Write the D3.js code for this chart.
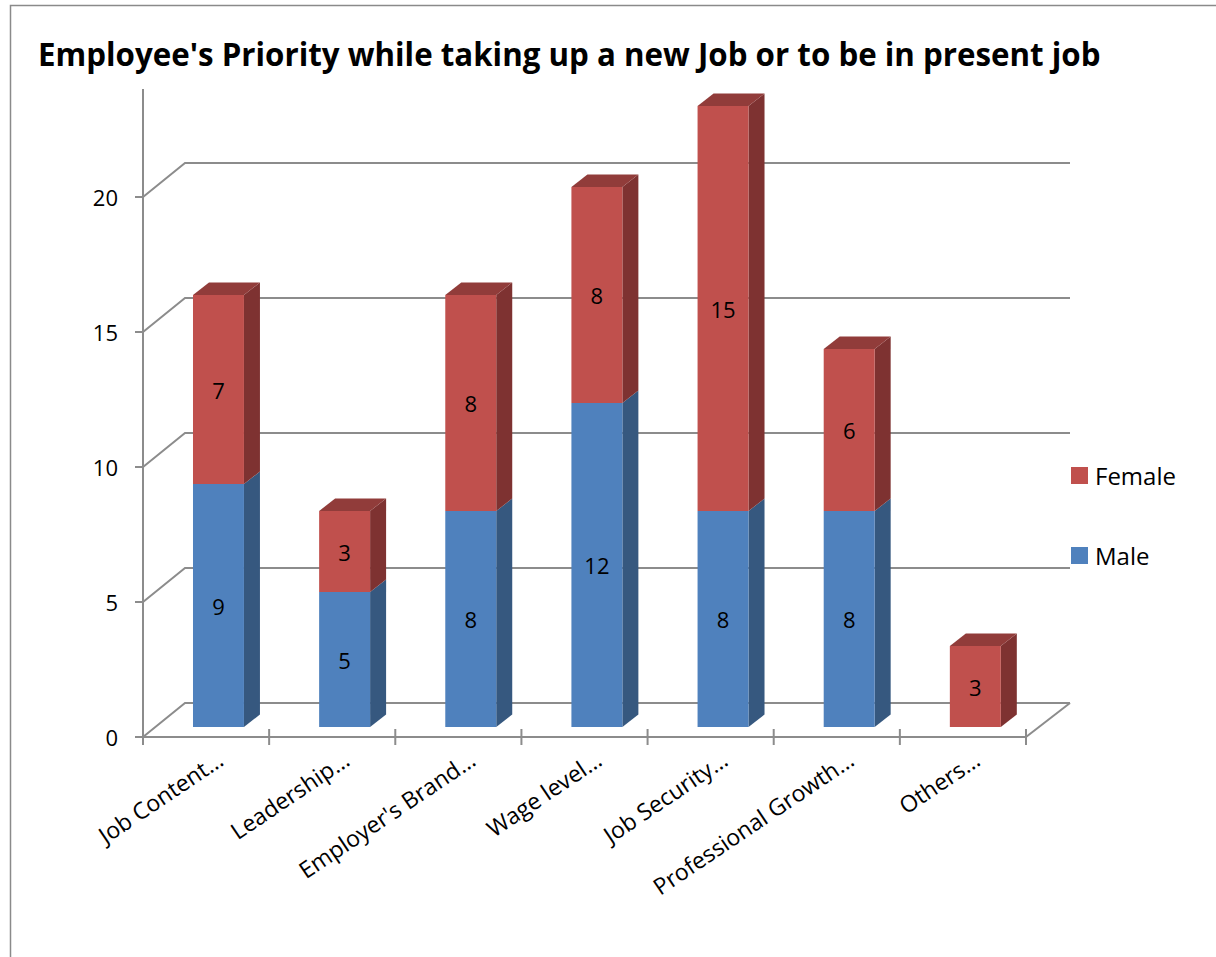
<!DOCTYPE html>
<html>
<head>
<meta charset="utf-8">
<script src="https://cdn.jsdelivr.net/npm/d3@7"></script>
<style>
  html, body { margin: 0; padding: 0; background: #fff; }
  svg { display: block; font-family: "Open Sans", "DejaVu Sans", sans-serif; }
</style>
</head>
<body>
<svg id="chart" width="1216" height="957"></svg>
<script>
// Survey answers: how many male / female employees chose each priority
const categories = ["Job Content…", "Leadership…", "Employer's Brand…", "Wage level…",
                    "Job Security…", "Professional Growth…", "Others…"];
const male   = [9, 5, 8, 12, 8, 8, 0];
const female = [7, 3, 8, 8, 15, 6, 3];
const seriesNames = ["Male", "Female"];
const yTicks = [0, 5, 10, 15, 20];
const titleText = "Employee's Priority while taking up a new Job or to be in present job";

const svg = d3.select("#chart");

// Colours of the three visible faces of each 3-D column
const palette = {
  Male:   { front: "#4F81BD", side: "#36587F", top: "#3E6696" },
  Female: { front: "#C0504D", side: "#7E3231", top: "#913C3A" }
};
const lineColor = "#8C8C8C";

// Front plane of the plot and depth of the back wall (oblique projection)
const x = d3.scaleBand().domain(categories).range([143, 1026])
  .paddingInner(0.596).paddingOuter(0.298);
const y = d3.scaleLinear().domain([0, 24]).range([737, 89]);
const depth = { dx: 42, dy: -34 };          // front axis -> back wall
const barShift = { dx: 12.4, dy: -10 };     // front axis -> bar front face
const barDepth = { dx: 16, dy: -12.5 };     // thickness of a column
const backRight = 1070;

// Outer frame
svg.append("rect").attr("x", 10.5).attr("y", 5.5).attr("width", 1300).attr("height", 1100)
  .attr("fill", "none").attr("stroke", "#8A8A8A").attr("stroke-width", 1.5);

// Title (size fitted to the available width)
const title = svg.append("text").attr("x", 38).attr("y", 66)
  .attr("font-weight", 700).attr("font-size", 28).attr("fill", "#000").text(titleText);
const tw = title.node().getComputedTextLength();
title.attr("font-size", 28 * 1063 / tw);

// Gridlines: diagonal on the side wall, then across the back wall
const grid = svg.append("g").attr("fill", "none").attr("stroke", lineColor).attr("stroke-width", 2);
yTicks.forEach(v => {
  const yf = y(v);
  grid.append("path").attr("d", d3.line()([
    [143, yf], [143 + depth.dx, yf + depth.dy], [backRight, yf + depth.dy]
  ]));
});
// Floor right edge
grid.append("path").attr("d", d3.line()([
  [1026, y(0)], [backRight, y(0) + depth.dy]
]));

// Stack the two series
const stackData = categories.map((c, i) => ({ cat: c, Male: male[i], Female: female[i] }));
const stacked = d3.stack().keys(seriesNames)(stackData);

const bars = svg.append("g");
categories.forEach((cat, i) => {
  const x0 = x(cat) + barShift.dx;
  const w = x.bandwidth();
  const segs = stacked.map(s => ({ key: s.key, lo: s[i][0], hi: s[i][1] }))
    .filter(s => s.hi > s.lo);
  segs.forEach((s, k) => {
    const yt = y(s.hi) + barShift.dy, yb = y(s.lo) + barShift.dy;
    const col = palette[s.key];
    const g = bars.append("g");
    // right side face
    g.append("path").attr("fill", col.side).attr("d", d3.line()([
      [x0 + w, yb], [x0 + w + barDepth.dx, yb + barDepth.dy],
      [x0 + w + barDepth.dx, yt + barDepth.dy], [x0 + w, yt]
    ]) + "Z");
    // front face
    g.append("rect").attr("x", x0).attr("y", yt).attr("width", w).attr("height", yb - yt)
      .attr("fill", col.front);
    // top face on the highest segment only
    if (k === segs.length - 1) {
      g.append("path").attr("fill", col.top).attr("d", d3.line()([
        [x0, yt], [x0 + w, yt], [x0 + w + barDepth.dx, yt + barDepth.dy],
        [x0 + barDepth.dx, yt + barDepth.dy]
      ]) + "Z");
    }
    // value label
    g.append("text").attr("x", x0 + w / 2).attr("y", (yt + yb) / 2)
      .attr("text-anchor", "middle").attr("dominant-baseline", "central")
      .attr("font-size", 22).attr("fill", "#000").text(s.hi - s.lo);
  });
});

// Value axis
const axisG = svg.append("g").attr("stroke", lineColor).attr("stroke-width", 2);
axisG.append("line").attr("x1", 143).attr("x2", 143).attr("y1", y(0)).attr("y2", y(24));
yTicks.forEach(v => {
  axisG.append("line").attr("x1", 135).attr("x2", 143).attr("y1", y(v)).attr("y2", y(v));
});
svg.append("g").selectAll("text").data(yTicks).join("text")
  .attr("x", 118).attr("y", d => y(d)).attr("text-anchor", "end")
  .attr("dominant-baseline", "central").attr("font-size", 22).attr("fill", "#000")
  .text(d => d);

// Category axis along the front edge of the floor
axisG.append("line").attr("x1", 143).attr("x2", 1026).attr("y1", y(0)).attr("y2", y(0));
const slot = x.step();
d3.range(categories.length + 1).forEach(i => {
  const tx = 143 + i * slot;
  axisG.append("line").attr("x1", tx).attr("x2", tx).attr("y1", y(0) - 8).attr("y2", y(0) + 8);
});
svg.append("g").selectAll("text").data(categories).join("text")
  .attr("transform", d => `translate(${x(d) + x.bandwidth() / 2 + 19},${y(0) + 27}) rotate(-34)`)
  .attr("text-anchor", "end").attr("font-size", 23).attr("fill", "#000")
  .text(d => d);

// Legend
const legend = svg.append("g");
[["Female", 475], ["Male", 555]].forEach(([name, ly]) => {
  legend.append("rect").attr("x", 1071).attr("y", ly - 8).attr("width", 17).attr("height", 17)
    .attr("fill", palette[name].front);
  legend.append("text").attr("x", 1095).attr("y", ly).attr("dominant-baseline", "central")
    .attr("font-size", 24).attr("fill", "#000").text(name);
});
</script>
</body>
</html>
